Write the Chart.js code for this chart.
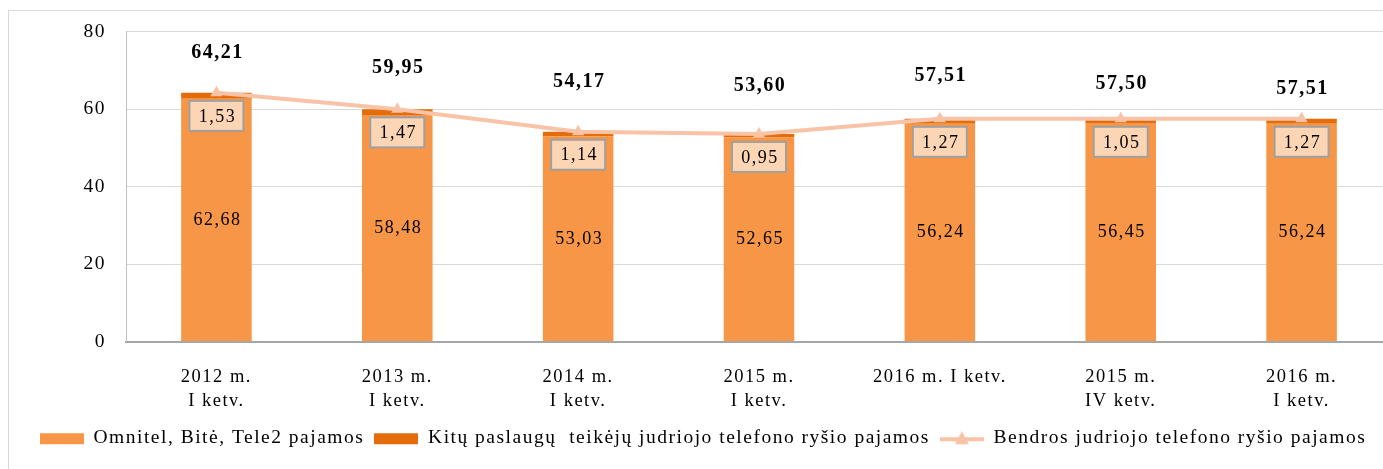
<!DOCTYPE html>
<html>
<head>
<meta charset="utf-8">
<script src="https://cdn.jsdelivr.net/npm/chart.js@4.4.1/dist/chart.umd.min.js"></script>
<style>
  html, body { margin: 0; padding: 0; background: #fff; overflow: hidden; }
  #frame { position: absolute; left: 8px; top: 10px; width: 1500px; height: 600px; border: 1px solid #D9D9D9; }
  #wrap { position: absolute; left: 0; top: 0; width: 1400px; height: 469px; }
</style>
</head>
<body>
<div id="frame"></div>
<div id="wrap"><canvas id="revenueChart"></canvas></div>
<script>
const categories = [
  ['2012 m.', 'I ketv.'],
  ['2013 m.', 'I ketv.'],
  ['2014 m.', 'I ketv.'],
  ['2015 m.', 'I ketv.'],
  '2016 m. I ketv.',
  ['2015 m.', 'IV ketv.'],
  ['2016 m.', 'I ketv.']
]
const mainOperators = [62.68, 58.48, 53.03, 52.65, 56.24, 56.45, 56.24]
const otherProviders = [1.53, 1.47, 1.14, 0.95, 1.27, 1.05, 1.27]
const totalRevenue = [64.21, 59.95, 54.17, 53.60, 57.51, 57.50, 57.51]
const yTicks = [0, 20, 40, 60, 80]

const seriesNames = [
  'Omnitel, Bitė, Tele2 pajamos',
  'Kitų paslaugų  teikėjų judriojo telefono ryšio pajamos',
  'Bendros judriojo telefono ryšio pajamos'
]

// how high the bold total sits above its bar (the source placed them by hand)
const totalLift = [40, 42, 50, 48, 43, 35, 30]

const ORANGE = '#F79646'
const DARK_ORANGE = '#E46C0A'
const PEACH = '#F8C3A6'
const FONT = '"Liberation Serif", "Times New Roman", serif'

Chart.defaults.font.family = FONT
Chart.defaults.color = '#000'

function fmt(v) {
  return v.toFixed(2).replace('.', ',')
}

function swatch(draw) {
  var c = document.createElement('canvas')
  c.width = 44
  c.height = 16
  draw(c.getContext('2d'))
  return c
}

var mainSwatch = swatch(function (g) { g.fillStyle = ORANGE; g.fillRect(0, 3, 44, 11) })
var otherSwatch = swatch(function (g) { g.fillStyle = DARK_ORANGE; g.fillRect(0, 3, 44, 11) })
var lineSwatch = swatch(function (g) {
  g.strokeStyle = PEACH
  g.lineWidth = 4
  g.beginPath(); g.moveTo(0, 9); g.lineTo(44, 9); g.stroke()
  g.fillStyle = PEACH
  g.beginPath(); g.moveTo(22, 1); g.lineTo(29, 14); g.lineTo(15, 14); g.closePath(); g.fill()
})

// the source text is drawn a bit spread out
const spacing = {
  id: 'spacing',
  beforeLayout(chart) { chart.ctx.letterSpacing = '1.5px' },
  beforeDraw(chart) { chart.ctx.letterSpacing = '1.5px' }
}

const valueLabels = {
  id: 'valueLabels',
  afterDatasetsDraw(chart) {
    var ctx = chart.ctx
    var y = chart.scales.y
    var bars = chart.getDatasetMeta(0).data
    ctx.save()
    ctx.textAlign = 'center'
    ctx.textBaseline = 'middle'
    ctx.fillStyle = '#000'
    bars.forEach(function (bar, i) {
      var x = bar.x
      var yMid = (y.getPixelForValue(0) + y.getPixelForValue(mainOperators[i])) / 2
      ctx.font = '18px ' + FONT
      ctx.fillText(fmt(mainOperators[i]), x + 1, yMid)

      var top = y.getPixelForValue(totalRevenue[i])
      var by = top + 23
      ctx.fillStyle = '#FCD5B5'
      ctx.fillRect(x - 27, by - 15, 54, 30)
      ctx.strokeStyle = '#A0A0A0'
      ctx.lineWidth = 2
      ctx.strokeRect(x - 27, by - 15, 54, 30)
      ctx.fillStyle = '#000'
      ctx.fillText(fmt(otherProviders[i]), x + 1, by + 1)

      ctx.font = 'bold 20px ' + FONT
      ctx.fillText(fmt(totalRevenue[i]), x + 1, top - totalLift[i])
    })
    ctx.restore()
  }
}

new Chart('revenueChart', {
  type: 'bar',
  data: {
    labels: categories,
    datasets: [{
      label: seriesNames[0],
      data: mainOperators,
      backgroundColor: ORANGE,
      stack: 'bars',
      barPercentage: 0.39,
      categoryPercentage: 1
    }, {
      label: seriesNames[1],
      data: otherProviders,
      backgroundColor: DARK_ORANGE,
      stack: 'bars',
      barPercentage: 0.39,
      categoryPercentage: 1
    }, {
      type: 'line',
      label: seriesNames[2],
      data: totalRevenue,
      borderColor: PEACH,
      backgroundColor: PEACH,
      borderWidth: 4,
      pointStyle: 'triangle',
      pointRadius: 7,
      pointBorderWidth: 0,
      pointBackgroundColor: PEACH,
      tension: 0,
      stack: 'line',
      order: -1
    }]
  },
  options: {
    responsive: true,
    maintainAspectRatio: false,
    animation: false,
    layout: { padding: { left: 14, right: 8, top: 29, bottom: 11 } },
    scales: {
      x: {
        stacked: true,
        grid: { display: false },
        border: { color: '#A6A6A6', width: 2 },
        ticks: {
          font: { size: 18.5, lineHeight: 1.3 },
          color: '#000',
          padding: 16,
          maxRotation: 0,
          autoSkip: false
        },
        afterFit(s) { s.height = 77 }
      },
      y: {
        stacked: true,
        min: 0,
        max: 80,
        afterBuildTicks(s) { s.ticks = yTicks.map(function (v) { return { value: v } }) },
        grid: { color: '#D9D9D9', lineWidth: 1, drawTicks: false },
        border: { color: '#BFBFBF', width: 1 },
        ticks: { font: { size: 19.5 }, color: '#000', padding: 20 },
        afterFit(s) { s.width = 112 }
      }
    },
    plugins: {
      tooltip: { enabled: false },
      legend: {
        position: 'bottom',
        labels: {
          usePointStyle: true,
          pointStyleWidth: 44,
          padding: 10,
          color: '#000',
          font: { size: 19.5 },
          generateLabels() {
            return [mainSwatch, otherSwatch, lineSwatch].map(function (img, i) {
              return { text: seriesNames[i], pointStyle: img, fontColor: '#000', lineWidth: 0, datasetIndex: i, hidden: false }
            })
          }
        }
      }
    }
  },
  plugins: [spacing, valueLabels]
})
</script>
</body>
</html>
